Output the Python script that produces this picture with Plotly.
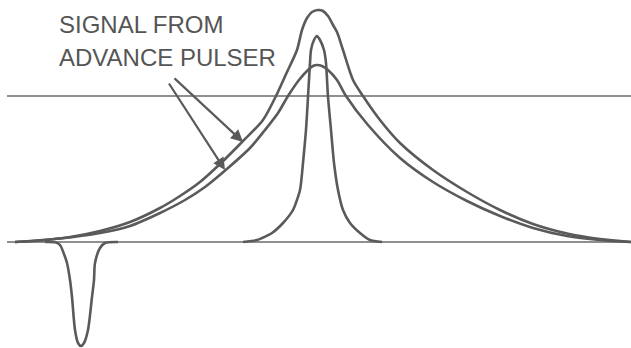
import plotly.graph_objects as go

# Time axis (arbitrary units) and signal amplitudes
outer_t = [15, 40, 70, 100, 130, 160, 180, 200, 220, 243, 263, 276, 287, 297, 302, 307, 312,
           318, 323, 328, 333, 337, 343, 353, 363, 380, 400, 433, 467, 500, 533, 567, 600, 631]
outer_v = [0, 1.5, 5, 11, 20, 34, 46, 60, 78, 101, 122, 146, 170, 192, 212, 224, 230,
           232, 231, 226, 217, 210, 192, 162, 146, 122, 99, 72, 50, 32, 18, 8.5, 3, 0]

middle_t = [15, 60, 100, 130, 160, 185, 205, 228, 250, 265, 278, 288, 299, 308, 313,
            317, 322, 328, 337, 346, 368, 400, 433, 467, 500, 533, 567, 600, 631]
middle_v = [0, 3.5, 9, 16, 29, 42, 55, 74, 94, 112, 129, 146, 162, 172, 176,
            177, 176, 172, 162, 146, 117, 84, 60, 41, 26, 14, 6, 2, 0]

narrow_t = [243, 257, 272, 283, 293, 300, 303, 306, 308, 310, 311, 314, 317,
            320, 324, 326, 328, 331, 334, 338, 343, 350, 360, 370, 382]
narrow_v = [0, 2, 9, 19, 32, 52, 79, 112, 145, 179, 192, 202, 206,
            202, 192, 179, 145, 112, 79, 52, 32, 19, 9, 2, 0]

neg_t = [45, 56, 60, 64, 67, 70, 72, 75, 78, 81, 84, 88, 92, 94, 95, 100, 105, 118]
neg_v = [0, -0.5, -3, -12, -21, -38, -55, -88, -101, -104, -101, -88, -55, -38, -21, -6, -1, 0]

baseline_t = [7, 631]
baseline_v = [0, 0]
threshold_t = [7, 631]
threshold_v = [146, 146]

label_lines = ["SIGNAL FROM", "ADVANCE PULSER"]

INK = "#5a5a5a"

fig = go.Figure()
for t, v in [(baseline_t, baseline_v), (threshold_t, threshold_v)]:
    fig.add_trace(go.Scatter(x=t, y=v, mode="lines",
                             line=dict(color="#6a6a6a", width=1.6),
                             hoverinfo="skip", showlegend=False))
for t, v, sm in [(outer_t, outer_v, 0.8), (middle_t, middle_v, 0.8),
                 (narrow_t, narrow_v, 0.6), (neg_t, neg_v, 0.8)]:
    fig.add_trace(go.Scatter(x=t, y=v, mode="lines",
                             line=dict(color=INK, width=2.6, shape="spline", smoothing=sm),
                             hoverinfo="skip", showlegend=False))

# label text
for i, y in enumerate([242 - 24, 242 - 57]):
    fig.add_annotation(x=57, y=y, text=label_lines[i], showarrow=False,
                       xanchor="left", yanchor="middle",
                       font=dict(family="Liberation Sans, Arial, sans-serif", size=24, color="#555555"))

# arrows from label to the two pulser signals
for (tx, ty), (hx, hy) in [((173, 165), (243, 100)), ((168, 160), (225, 72))]:
    fig.add_annotation(x=hx, y=hy, ax=tx, ay=ty, axref="x", ayref="y",
                       xref="x", yref="y", text="", showarrow=True,
                       arrowhead=2, arrowsize=1.1, arrowwidth=2.2, arrowcolor=INK)

fig.update_layout(
    width=631, height=348,
    margin=dict(l=0, r=0, t=0, b=0),
    paper_bgcolor="white", plot_bgcolor="white",
    xaxis=dict(range=[0, 631], visible=False, fixedrange=True),
    yaxis=dict(range=[-106, 242], visible=False, fixedrange=True),
)

fig.write_html("out.html", config={"displayModeBar": False},
               post_script="document.body.style.margin='0';document.body.style.overflow='hidden';")
